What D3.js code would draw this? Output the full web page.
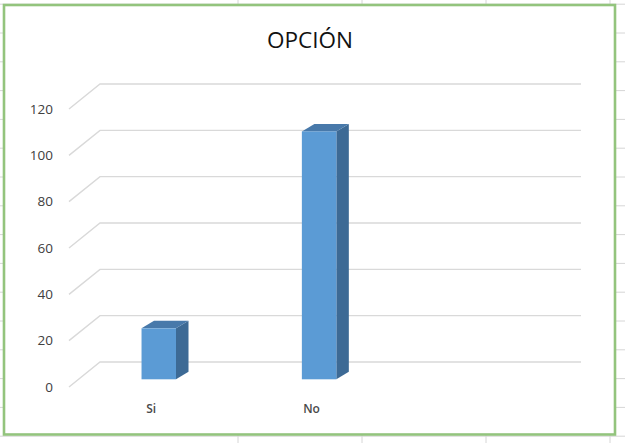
<!DOCTYPE html>
<html>
<head>
<meta charset="utf-8">
<script src="https://cdn.jsdelivr.net/npm/d3@7"></script>
<style>
  html, body { margin: 0; padding: 0; background: #ffffff; }
  svg { display: block; }
</style>
</head>
<body>
<svg id="chart" width="625" height="443"></svg>
<script>
// Chart data
const title = "OPCIÓN";
const categories = ["Si", "No", ""];
const values = [22, 107, null];
const yTicks = [0, 20, 40, 60, 80, 100, 120];

const W = 625, H = 443;
const svg = d3.select("#chart");

// Worksheet cell grid behind the chart object
const colLines = [238, 362, 486, 610];
const rowLines = d3.range(4.2, H + 1, 28.8);
const sheet = svg.append("g").attr("stroke", "#d6d6d6").attr("stroke-width", 1);
sheet.selectAll("line.col").data(colLines).join("line")
  .attr("x1", d => d).attr("x2", d => d).attr("y1", 0).attr("y2", H);
sheet.selectAll("line.row").data(rowLines).join("line")
  .attr("y1", d => d).attr("y2", d => d).attr("x1", 0).attr("x2", W);

// Chart area
svg.append("rect")
  .attr("x", 4).attr("y", 5).attr("width", 611).attr("height", 429.5)
  .attr("fill", "#ffffff").attr("stroke", "#93c47d").attr("stroke-width", 2.6);

// Title
svg.append("text")
  .attr("x", 310).attr("y", 48)
  .attr("text-anchor", "middle")
  .attr("font-family", "'Open Sans', 'Liberation Sans', sans-serif")
  .attr("font-size", 22.5)
  .attr("fill", "#111111")
  .text(title);

// 3-D plot geometry: front edge of floor and the depth vector to the back wall
const floorLeft = 69, floorRight = 550;
const depth = { dx: 31, dy: -25 };

const x = d3.scaleBand().domain(categories).range([floorLeft, floorRight]);
const y = d3.scaleLinear().domain([0, 120]).range([387, 109]);

// Gridlines: diagonal on the side wall, horizontal on the back wall
const grid = svg.append("g").attr("stroke", "#d9d9d9").attr("stroke-width", 1.4).attr("fill", "none");
grid.selectAll("path").data(yTicks).join("path")
  .attr("d", v => {
    const y0 = y(v);
    return `M${floorLeft},${y0} L${floorLeft + depth.dx},${y0 + depth.dy} L${floorRight + depth.dx},${y0 + depth.dy}`;
  });

// Value axis labels
svg.append("g").selectAll("text").data(yTicks).join("text")
  .attr("x", 53).attr("y", v => y(v))
  .attr("dy", "0.35em")
  .attr("text-anchor", "end")
  .attr("font-family", "'Open Sans', 'Liberation Sans', sans-serif")
  .attr("font-size", 13.5)
  .attr("fill", "#404040")
  .text(v => v);

// Category labels
svg.append("g").selectAll("text").data(categories).join("text")
  .attr("x", d => x(d) + x.bandwidth() / 2 + 2)
  .attr("y", 409)
  .attr("dy", "0.35em")
  .attr("text-anchor", "middle")
  .attr("font-family", "'Open Sans', 'Liberation Sans', sans-serif")
  .attr("font-size", 12)
  .attr("font-weight", 600)
  .attr("fill", "#4a4a4a")
  .text(d => d);

// 3-D columns: front face sits part-way into the depth, side and top faces recede
const barFrac = 0.215;
const frontShift = { dx: 9.6, dy: -7.7 };
const barDepth = { dx: 12.5, dy: -7.5 };
const barData = categories.map((c, i) => ({ c, v: values[i] })).filter(d => d.v != null);

const bars = svg.append("g").selectAll("g").data(barData).join("g");

const geom = d => {
  const bw = x.bandwidth() * barFrac;
  const cx = x(d.c) + x.bandwidth() / 2;
  const x0 = cx - bw / 2 + frontShift.dx;
  const x1 = x0 + bw;
  const yb = y(0) + frontShift.dy;
  const yt = y(d.v) + frontShift.dy;
  return { x0, x1, yb, yt };
};

// side face
bars.append("path")
  .attr("fill", "#3d6a95")
  .attr("d", d => {
    const g = geom(d);
    return `M${g.x1},${g.yb} L${g.x1 + barDepth.dx},${g.yb + barDepth.dy} L${g.x1 + barDepth.dx},${g.yt + barDepth.dy} L${g.x1},${g.yt} Z`;
  });
// top face
bars.append("path")
  .attr("fill", "#4879aa")
  .attr("d", d => {
    const g = geom(d);
    return `M${g.x0},${g.yt} L${g.x1},${g.yt} L${g.x1 + barDepth.dx},${g.yt + barDepth.dy} L${g.x0 + barDepth.dx},${g.yt + barDepth.dy} Z`;
  });
// front face
bars.append("rect")
  .attr("fill", "#5b9bd5")
  .attr("x", d => geom(d).x0)
  .attr("y", d => geom(d).yt)
  .attr("width", d => geom(d).x1 - geom(d).x0)
  .attr("height", d => geom(d).yb - geom(d).yt);
</script>
</body>
</html>
